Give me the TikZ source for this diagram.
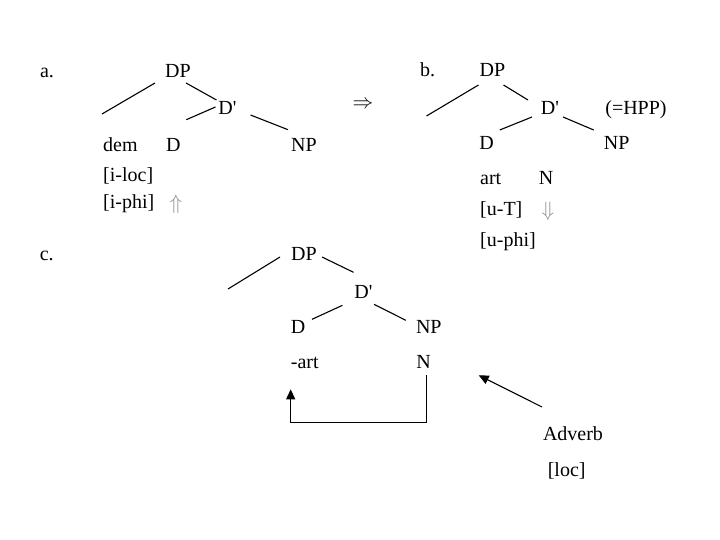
\documentclass[tikz,border=0pt]{standalone}
\usepackage{fontspec}
\setmainfont{Liberation Serif}[Ligatures=TeXOff]
\usetikzlibrary{arrows.meta}

\begin{document}
\begin{tikzpicture}[x=1pt,y=-1pt,
    every node/.style={font=\fontsize{20}{24}\selectfont,inner sep=0pt,anchor=base},
    feat/.style={anchor=base west},
    agree/.style={anchor=center,text=black!45},
    branch/.style={line width=1.1pt},
    move/.style={line width=1.1pt,-{Triangle[length=10pt,width=9pt]}}]
    \useasboundingbox (0,0) rectangle (720,540);
    % a.
    \node (labA) at (47,78) {a.};
    \node (dpA) at (178,78) {DP};
    \node (dbarA) at (227.5,115) {D'};
    \node[feat] (demA) at (103,151.7) {dem};
    \node (dA) at (173.3,151.7) {D};
    \node (npA) at (304,151.7) {NP};
    \node[feat] (ilocA) at (103,181.7) {[i-loc]};
    \node[feat] (iphiA) at (103,209) {[i-phi]};
    \node[agree] (upA) at (176,204) {$\Uparrow$};
    \draw[branch] ([shift={(-23,5)}]dpA.base) -- ++(-53,31);
    \draw[branch] ([shift={(8,5)}]dpA.base) -- ([shift={(-11,-15)}]dbarA.base);
    \draw[branch] ([shift={(-12,-8)}]dbarA.base) -- ([shift={(13,-32)}]dA.base);
    \draw[branch] ([shift={(23,0)}]dbarA.base) -- ([shift={(-16,-22)}]npA.base);
    \node[anchor=center] (impl) at (363,105) {$\Rightarrow$};
    % b.
    \node (labB) at (427.5,77) {b.};
    \node (dpB) at (492.5,77) {DP};
    \node (dbarB) at (550,115) {D'};
    \node (hppB) at (636,115) {(=HPP)};
    \node (dB) at (486.7,150) {D};
    \node (npB) at (616.7,150) {NP};
    \node[feat] (artB) at (480,185) {art};
    \node (nB) at (546,185) {N};
    \node[feat] (utB) at (480,215) {[u-T]};
    \node[agree] (downB) at (548,211) {$\Downarrow$};
    \node[feat] (uphiB) at (480,246.7) {[u-phi]};
    \draw[branch] ([shift={(-14,8)}]dpB.base) -- ++(-52,31);
    \draw[branch] ([shift={(11,8)}]dpB.base) -- ([shift={(-22,-15)}]dbarB.base);
    \draw[branch] ([shift={(-18,2)}]dbarB.base) -- ([shift={(13,-20)}]dB.base);
    \draw[branch] ([shift={(13,2)}]dbarB.base) -- ([shift={(-23,-20)}]npB.base);
    % c.
    \node (labC) at (46.7,260) {c.};
    \node (dpC) at (304,260) {DP};
    \node (dbarC) at (363.5,298.3) {D'};
    \node (dC) at (298,333.3) {D};
    \node (npC) at (428.8,333.3) {NP};
    \node[feat] (artC) at (290.7,368.3) {-art};
    \node (nC) at (423.7,368.3) {N};
    \node (advC) at (573,440) {Adverb};
    \node (locC) at (566.7,476.7) {[loc]};
    \draw[branch] ([shift={(-24,-3)}]dpC.base) -- ++(-52,32);
    \draw[branch] ([shift={(18,-3)}]dpC.base) -- ([shift={(-10,-26)}]dbarC.base);
    \draw[branch] ([shift={(-21,7)}]dbarC.base) -- ([shift={(14,-14)}]dC.base);
    \draw[branch] ([shift={(10.5,6)}]dbarC.base) -- ([shift={(-23,-13)}]npC.base);
    \draw[move] ([shift={(3,7)}]nC.base) |- ([shift={(0,54.5)}]artC.base west)
        -- ([shift={(0,21)}]artC.base west);
    \draw[move] ([shift={(-31,-33)}]advC.base) -- ([shift={(55,7)}]nC.base);
\end{tikzpicture}
\end{document}
